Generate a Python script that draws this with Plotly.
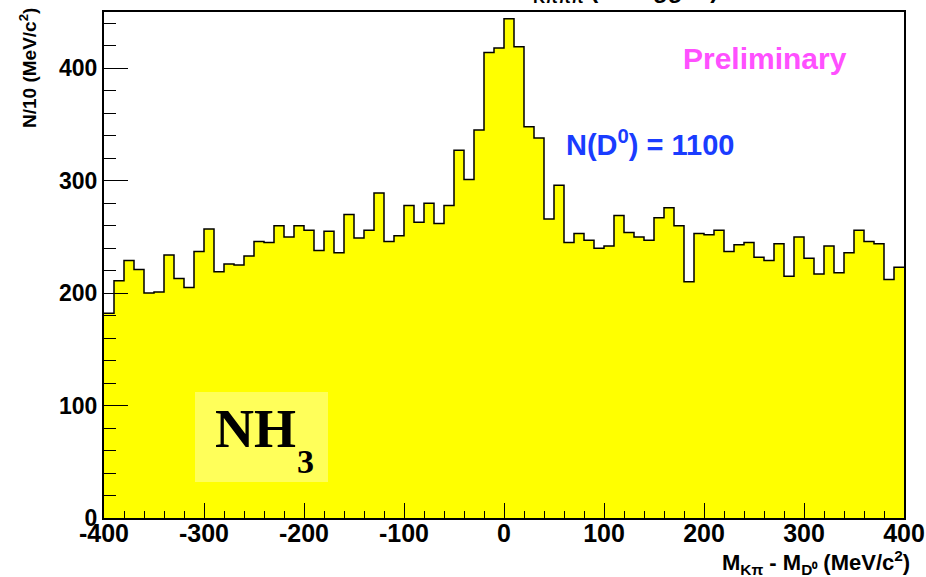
import plotly.graph_objects as go

# ---- data ----
bin_edges = list(range(-400, 401, 10))
counts = [182, 211, 229, 221, 200, 201, 234, 213, 205, 237,
          257, 219, 226, 225, 233, 246, 245, 260, 250, 260,
          256, 238, 255, 236, 270, 249, 256, 289, 246, 251,
          278, 263, 280, 262, 278, 327, 301, 345, 414, 418,
          444, 419, 348, 338, 266, 296, 245, 253, 247, 240,
          242, 269, 254, 250, 247, 267, 276, 260, 210, 253,
          252, 256, 237, 243, 245, 232, 229, 244, 215, 250,
          231, 217, 242, 218, 236, 256, 246, 244, 212, 223]
x_ticks = [-400, -300, -200, -100, 0, 100, 200, 300, 400]
y_ticks = [0, 100, 200, 300, 400]

W, H = 926, 577
ML, MR, MT, MB = 104, 22, 12, 59
PW, PH = W - ML - MR, H - MT - MB


def px(x):
    return (x - ML) / PW


def py(y):
    return (H - MB - y) / PH


FONT = "Liberation Sans"

fig = go.Figure()
fig.add_trace(go.Scatter(
    x=bin_edges,
    y=counts + [counts[-1]],
    mode="lines",
    line=dict(shape="hv", color="black", width=1.5),
    fill="tozeroy",
    fillcolor="#ffff00",
    hoverinfo="skip",
    showlegend=False,
))

fig.update_layout(
    width=W, height=H,
    margin=dict(l=ML, r=MR, t=MT, b=MB, pad=0, autoexpand=False),
    paper_bgcolor="white",
    plot_bgcolor="white",
    showlegend=False,
    font=dict(family=FONT, color="black"),
)

fig.update_xaxes(
    range=[-400, 400],
    automargin=False,
    tickvals=x_ticks,
    ticktext=[str(v) for v in x_ticks],
    ticks="inside", ticklen=15, tickwidth=1.2, tickcolor="black",
    minor=dict(ticks="inside", ticklen=7.5, dtick=20, tick0=-400,
               tickwidth=1.2, tickcolor="black", showgrid=False),
    showgrid=False, zeroline=False,
    showline=True, linecolor="black", linewidth=1.5, mirror=True,
    ticklabelstandoff=-8,
    ticklabeloverflow="allow",
    tickfont=dict(family=FONT, size=25, weight="bold", color="black"),
)
fig.update_yaxes(
    range=[0, 450],
    automargin=False,
    tickvals=y_ticks,
    ticktext=[str(v) for v in y_ticks],
    ticks="inside", ticklen=24, tickwidth=1.2, tickcolor="black",
    minor=dict(ticks="inside", ticklen=12, dtick=20, tick0=0,
               tickwidth=1.2, tickcolor="black", showgrid=False),
    showgrid=False, zeroline=False,
    showline=True, linecolor="black", linewidth=2, mirror=True,
    ticklabeloverflow="allow",
    tickfont=dict(family=FONT, size=23, weight="bold", color="black"),
)

# NH3 label box
fig.add_shape(type="rect", xref="paper", yref="paper",
              x0=px(195), x1=px(328), y0=py(482), y1=py(392),
              fillcolor="#ffff5a", line=dict(width=0), layer="above")

annotations = [
    dict(text="N/10 (MeV/c<sup>2</sup>)", x=px(28), y=py(68), textangle=-90,
         xanchor="center", yanchor="middle",
         font=dict(family=FONT, size=19, weight="bold", color="black")),
    dict(text="M<sub>Kπ</sub> - M<sub>D⁰</sub> (MeV/c<sup>2</sup>)",
         x=px(912), y=py(562), xanchor="right", yanchor="middle",
         font=dict(family=FONT, size=22, weight="bold", color="black")),
    dict(text="Preliminary", x=px(765), y=py(58), xanchor="center", yanchor="middle",
         font=dict(family=FONT, size=30, weight="bold", color="#ff50ff")),
    dict(text="N(D<sup>0</sup>) = 1100", x=px(650), y=py(143), xanchor="center",
         yanchor="middle",
         font=dict(family=FONT, size=29, weight="bold", color="#1a3cff")),
    dict(text="NH", x=px(255), y=py(429), xanchor="center", yanchor="middle",
         font=dict(family="Liberation Serif", size=54, weight="bold", color="black")),
    dict(text="3", x=px(305), y=py(461), xanchor="center", yanchor="middle",
         font=dict(family="Liberation Serif", size=34, weight="bold", color="black")),
    dict(text="M<sub>Kπππ</sub> (D* tagged)", x=px(615), y=py(9), xanchor="center",
         yanchor="bottom",
         font=dict(family=FONT, size=24, weight="bold", color="black")),
]
for a in annotations:
    a.update(xref="paper", yref="paper", showarrow=False)
    fig.add_annotation(**a)

fig.write_html("out.html")
